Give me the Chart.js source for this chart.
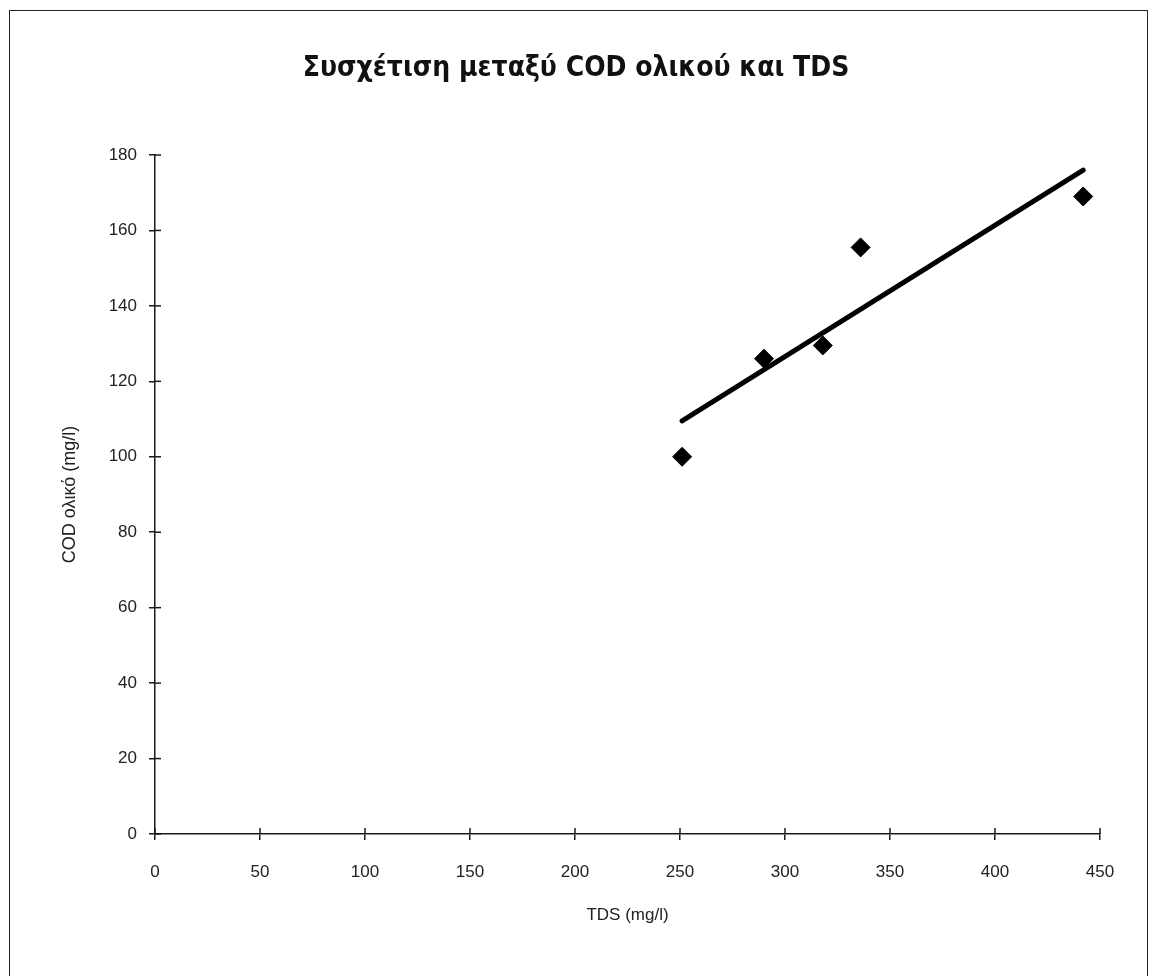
<!DOCTYPE html>
<html>
<head>
<meta charset="utf-8">
<script src="https://cdn.jsdelivr.net/npm/chart.js@4/dist/chart.umd.min.js"></script>
<style>
    body { margin: 0; background: #fff; }
    #wrap { position: relative; width: 1152px; height: 976px; overflow: hidden; }
    #frame { position: absolute; left: 9px; top: 10px; width: 1137px; height: 1000px;
             border: 1.5px solid #222; border-bottom: none; }
    canvas { position: absolute; left: 0; top: 0; }
</style>
</head>
<body>
<div id="wrap">
    <div id="frame"></div>
    <canvas id="codChart" width="1152" height="976"></canvas>
</div>
<script>
// Τιμές από το διάγραμμα
const tdsValues = [251, 290, 318, 336, 442];
const codValues = [100, 126, 129.5, 155.5, 169];
// Γραμμή τάσης (άκρα)
const trendTds = [251, 442];
const trendCod = [109.5, 176];
const xTicks = [0, 50, 100, 150, 200, 250, 300, 350, 400, 450];
const yTicks = [0, 20, 40, 60, 80, 100, 120, 140, 160, 180];

const axisColor = '#1a1a1a';
const labelFont = { family: "'Liberation Sans', Arial, sans-serif", size: 17 };

// petites graduations vers l'intérieur (les graduations traversent l'axe)
const innerTicks = {
    id: 'innerTicks',
    afterDraw(chart) {
        const { ctx, scales: { x, y } } = chart;
        ctx.save();
        ctx.strokeStyle = axisColor;
        ctx.lineWidth = 1.5;
        x.ticks.forEach(t => {
            const px = x.getPixelForValue(t.value);
            ctx.beginPath();
            ctx.moveTo(px, y.bottom);
            ctx.lineTo(px, y.bottom - 6);
            ctx.stroke();
        });
        y.ticks.forEach(t => {
            const py = y.getPixelForValue(t.value);
            ctx.beginPath();
            ctx.moveTo(x.left, py);
            ctx.lineTo(x.left + 6, py);
            ctx.stroke();
        });
        ctx.restore();
    }
};

const ctx = document.getElementById('codChart').getContext('2d');
const codChart = new Chart(ctx, {
    type: 'scatter',
    data: {
        datasets: [{
            label: 'COD',
            data: tdsValues.map((v, i) => ({ x: v, y: codValues[i] })),
            pointStyle: 'rectRot',
            pointRadius: 9.5,
            pointHoverRadius: 9.5,
            backgroundColor: '#000',
            borderColor: '#000',
            borderWidth: 1
        }, {
            label: 'Γραμμή τάσης',
            data: trendTds.map((v, i) => ({ x: v, y: trendCod[i] })),
            showLine: true,
            pointRadius: 0,
            borderColor: '#000',
            borderWidth: 5,
            borderCapStyle: 'round'
        }]
    },
    options: {
        responsive: false,
        animation: false,
        layout: { padding: { left: 52, right: 52, top: 0, bottom: 0 } },
        plugins: {
            legend: { display: false },
            tooltip: { enabled: false },
            title: {
                display: true,
                text: 'Συσχέτιση μεταξύ COD ολικού και TDS',
                color: '#111',
                font: { family: "'DejaVu Sans Condensed', 'DejaVu Sans', sans-serif", size: 28, weight: 'bold' },
                padding: { top: 52, bottom: 69.4 }
            }
        },
        scales: {
            x: {
                type: 'linear',
                min: 0,
                max: 450,
                afterBuildTicks: scale => { scale.ticks = xTicks.map(v => ({ value: v })); },
                afterFit: scale => { scale.height = 142; },
                grid: { drawOnChartArea: false, color: axisColor, lineWidth: 1.5, tickLength: 6 },
                border: { color: axisColor, width: 1.5 },
                ticks: { color: '#222', font: labelFont, padding: 22 },
                title: {
                    display: true,
                    text: 'TDS (mg/l)',
                    color: '#222',
                    font: labelFont,
                    padding: { top: 0, bottom: 50 }
                }
            },
            y: {
                type: 'linear',
                min: 0,
                max: 180,
                afterBuildTicks: scale => { scale.ticks = yTicks.map(v => ({ value: v })); },
                afterFit: scale => { scale.width = 103; },
                grid: { drawOnChartArea: false, color: axisColor, lineWidth: 1.5, tickLength: 6 },
                border: { color: axisColor, width: 1.5 },
                ticks: { color: '#222', font: labelFont, padding: 12 },
                title: {
                    display: true,
                    text: 'COD ολικό (mg/l)',
                    color: '#222',
                    font: { family: "'Liberation Sans', Arial, sans-serif", size: 18 },
                    padding: { top: 7, bottom: 0 }
                }
            }
        }
    },
    plugins: [innerTicks]
});
</script>
</body>
</html>
